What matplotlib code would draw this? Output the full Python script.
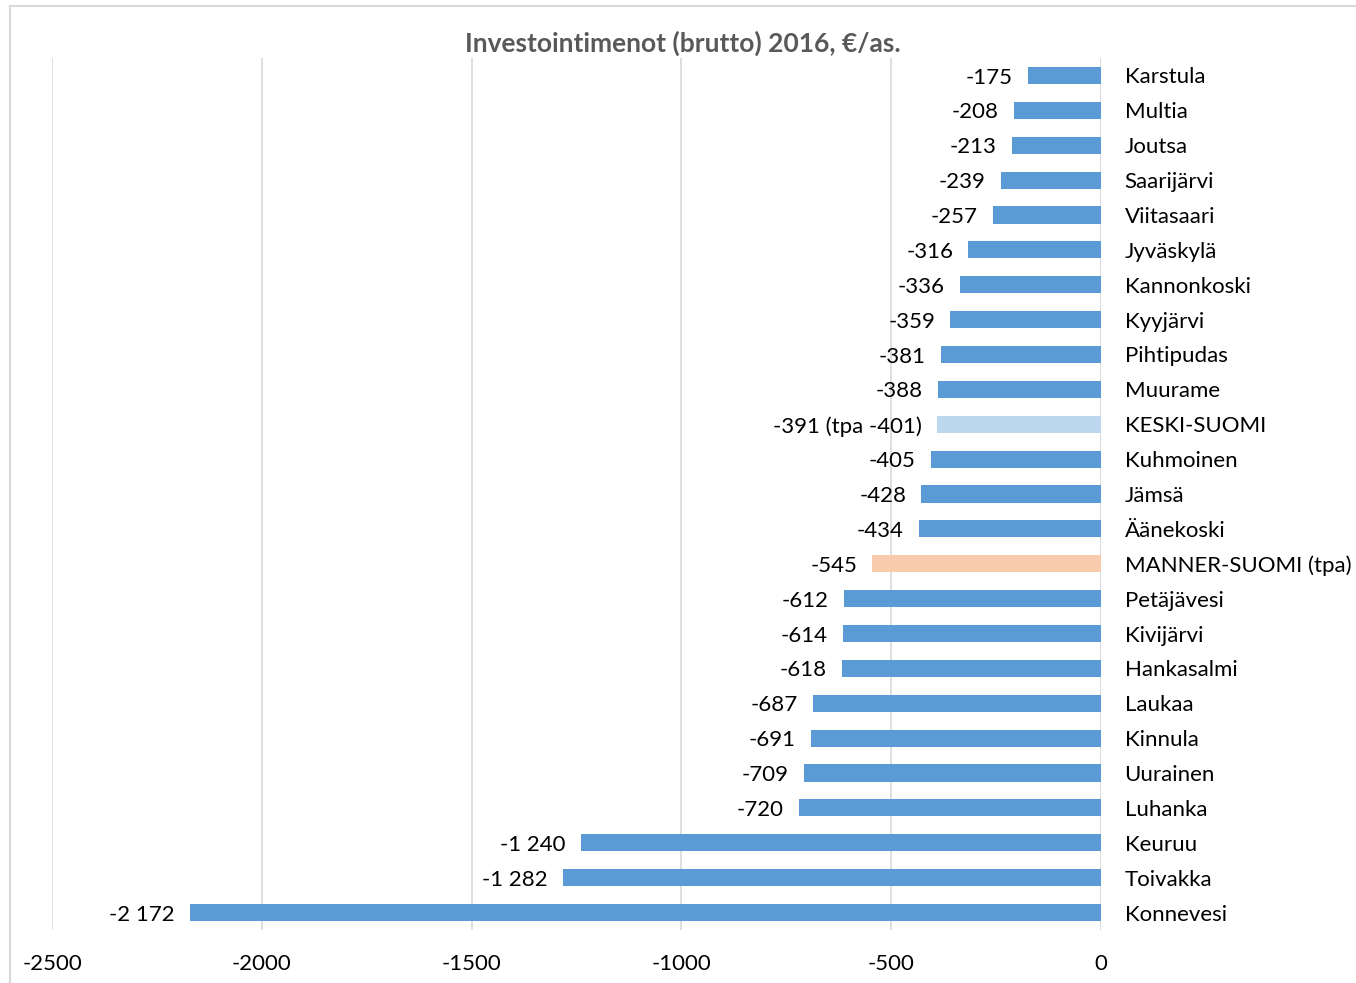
import matplotlib
matplotlib.use("Agg")
import matplotlib.pyplot as plt
from matplotlib.lines import Line2D

plt.rcParams['font.family'] = ['Lato', 'DejaVu Sans']

names = ['Karstula', 'Multia', 'Joutsa', 'Saarijärvi', 'Viitasaari', 'Jyväskylä',
         'Kannonkoski', 'Kyyjärvi', 'Pihtipudas', 'Muurame', 'KESKI-SUOMI',
         'Kuhmoinen', 'Jämsä', 'Äänekoski', 'MANNER-SUOMI (tpa)', 'Petäjävesi',
         'Kivijärvi', 'Hankasalmi', 'Laukaa', 'Kinnula', 'Uurainen', 'Luhanka',
         'Keuruu', 'Toivakka', 'Konnevesi']
values = [-175, -208, -213, -239, -257, -316, -336, -359, -381, -388, -391,
          -405, -428, -434, -545, -612, -614, -618, -687, -691, -709, -720,
          -1240, -1282, -2172]
labels = ['-175', '-208', '-213', '-239', '-257', '-316', '-336', '-359', '-381',
          '-388', '-391 (tpa -401)', '-405', '-428', '-434', '-545', '-612', '-614',
          '-618', '-687', '-691', '-709', '-720', '-1 240', '-1 282', '-2 172']
colors = ['#5B9BD5'] * len(names)
colors[names.index('KESKI-SUOMI')] = '#BDD7EE'
colors[names.index('MANNER-SUOMI (tpa)')] = '#F8CBAD'

fig = plt.figure(figsize=(13.56, 9.83), dpi=100)
W, H = 1356, 983
ax = fig.add_axes([52 / W, (H - 930) / H, (1101 - 52) / W, (930 - 58) / H])

pos = list(range(len(names)))
ax.barh(pos, values, height=0.49, color=colors, zorder=3)
ax.set_ylim(len(names) - 0.5, -0.5)
ax.set_xlim(-2500, 0)
ax.set_xticks([-2500, -2000, -1500, -1000, -500, 0])
ax.set_xticklabels(['-2500', '-2000', '-1500', '-1000', '-500', '0'])
ax.grid(axis='x', color='#D9D9D9', linewidth=1.2, zorder=0)
ax.axvline(0, color='#D9D9D9', linewidth=1.2, zorder=1)
for s in ax.spines.values():
    s.set_visible(False)

ax.yaxis.tick_right()
ax.set_yticks(pos)
ax.set_yticklabels(names)
ax.tick_params(axis='y', length=0, pad=17, labelsize=16, labelcolor='#000000')
ax.tick_params(axis='x', length=0, pad=17, labelsize=16, labelcolor='#000000')

for p, v, t in zip(pos, values, labels):
    ax.annotate(t, (v, p), xytext=(-11, -1.5), textcoords='offset points',
                ha='right', va='center', fontsize=16, color='#000000')

fig.text(683 / W, 1 - 43 / H, 'Investointimenot (brutto) 2016, €/as.',
         ha='center', va='center', fontsize=19, fontweight='bold', color='#595959')

# chart frame
fig.add_artist(Line2D([10 / W, 10 / W], [0, 1 - 6 / H], color='#D9D9D9', linewidth=1.5,
                      transform=fig.transFigure))
fig.add_artist(Line2D([10 / W, 1], [1 - 6 / H, 1 - 6 / H], color='#D9D9D9', linewidth=1.5,
                      transform=fig.transFigure))

fig.savefig('out.png', dpi=100)
